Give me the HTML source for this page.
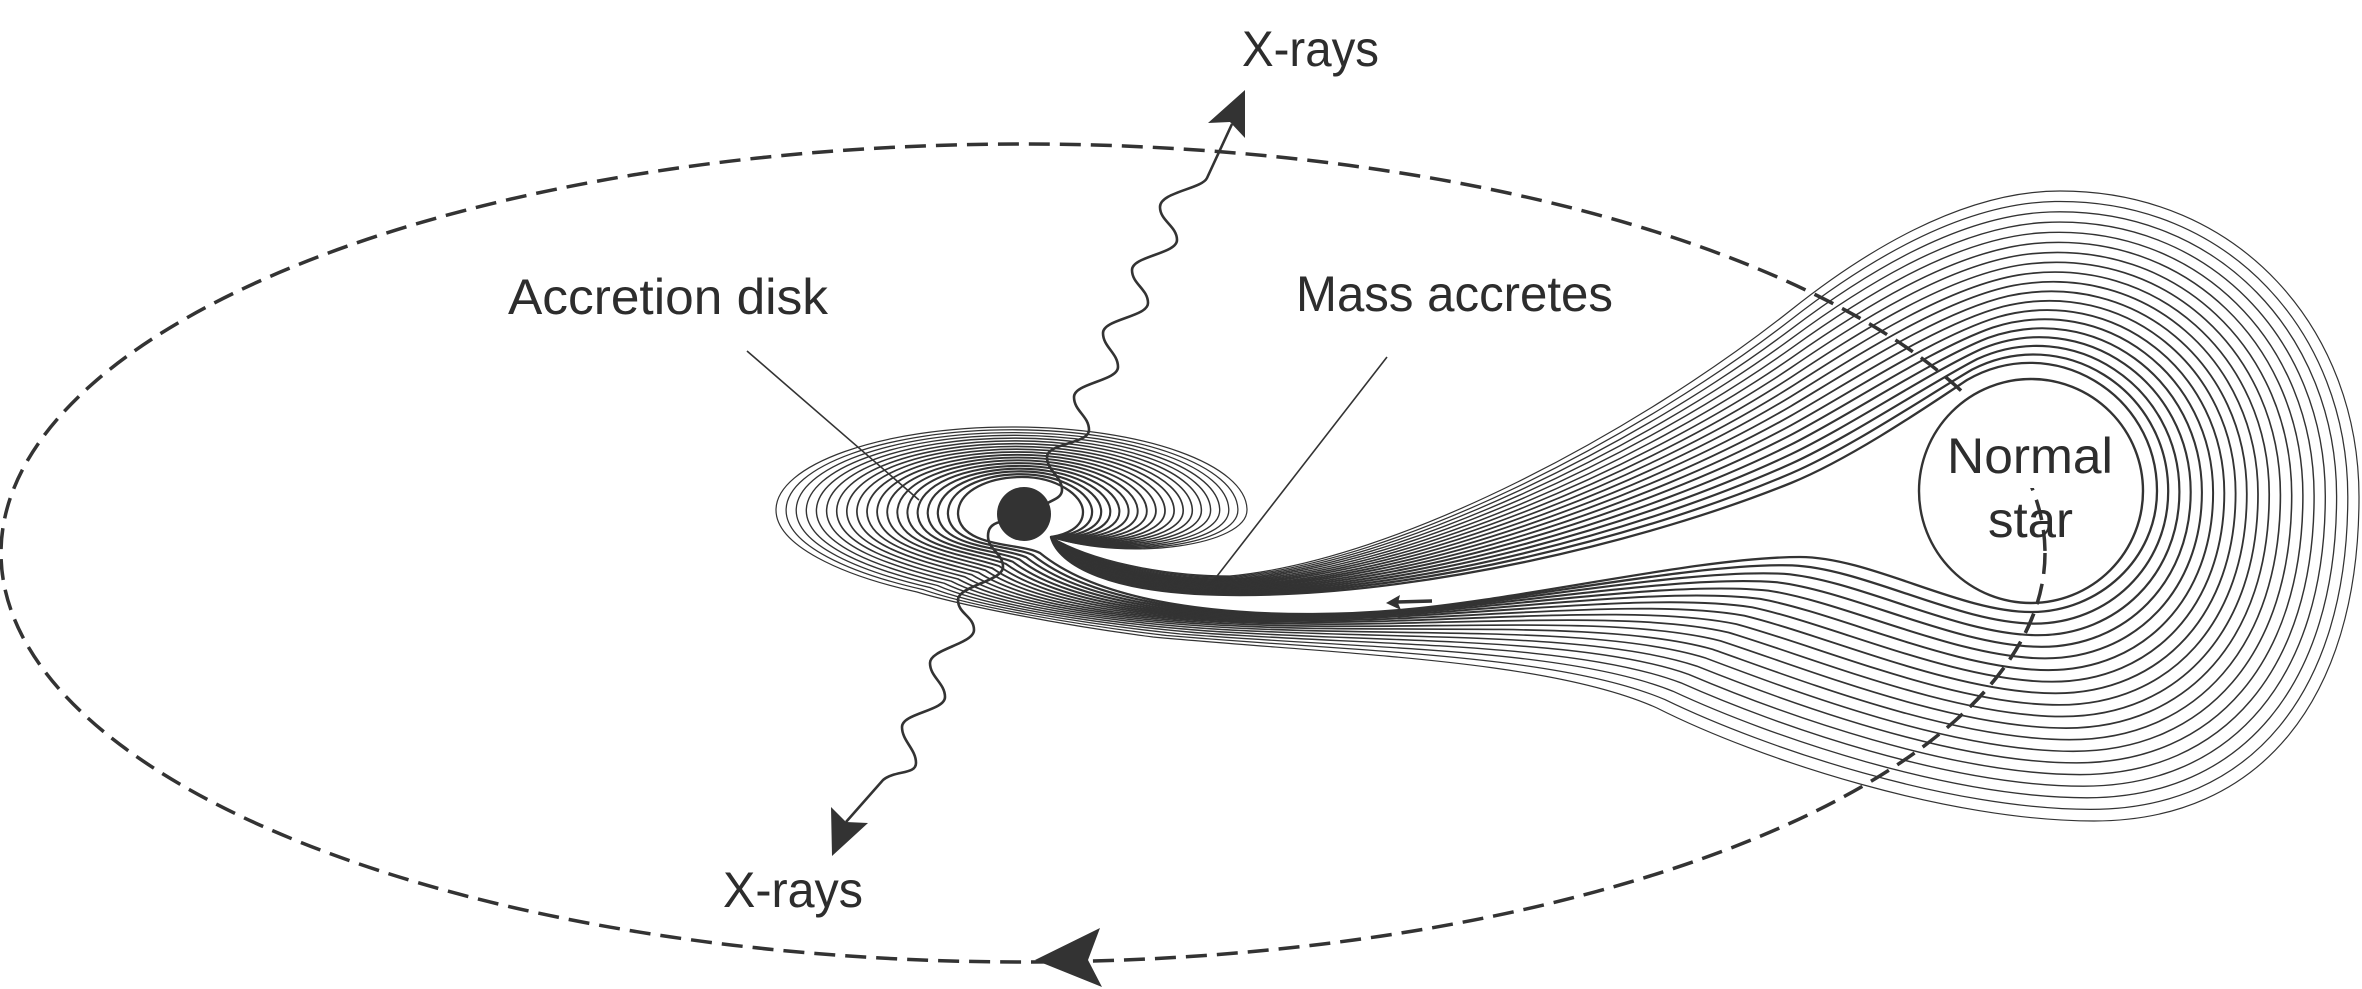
<!DOCTYPE html>
<html><head><meta charset="utf-8">
<style>
html,body{margin:0;padding:0;background:#fff;width:2362px;height:989px;overflow:hidden;}
svg{display:block;}
text{font-family:"Liberation Sans",sans-serif;fill:#2d2d2d;font-size:50px;}
</style></head>
<body>
<svg id="s" width="2362" height="989" viewBox="0 0 2362 989" xmlns="http://www.w3.org/2000/svg">
<defs><clipPath id="lowstar"><rect x="1900" y="488" width="300" height="220"/></clipPath></defs>
<rect x="0" y="0" width="2362" height="989" fill="#fff"/>
<g id="flow" fill="none" stroke="#333" stroke-linejoin="round" stroke-linecap="round"></g>

<!-- leader lines -->
<line x1="747" y1="351" x2="919" y2="500" stroke="#333" stroke-width="1.6"/>
<line x1="1387" y1="357" x2="1214" y2="580" stroke="#333" stroke-width="1.6"/>

<!-- wavy x-ray lines -->
<path d="M 1232 124 L 1207 178 C 1202 189 1160 192 1160 207 C 1160 221 1177 226 1177 240 C 1177 254 1132 256 1132 270 C 1132 284 1148 289 1148 303 C 1148 317 1103 319 1103 333 C 1103 347 1118 353 1118 367 C 1118 381 1074 383 1074 397 C 1074 411 1089 416 1089 430 C 1089 444 1047 443 1047 457 C 1047 471 1062 476 1062 490 C 1062 498 1052 500 1046 504" fill="none" stroke="#333" stroke-width="2.6"/>
<polygon points="1245,90 1245,138 1230,122 1208,123" fill="#333"/>

<path d="M 1000 522 C 992 524 988 528 988 536 C 988 550 1003 553 1003 567 C 1003 581 958 586 958 600 C 958 614 974 616 974 630 C 974 644 930 649 930 663 C 930 677 945 683 945 697 C 945 711 902 713 902 727 C 902 741 916 749 916 763 C 916 775 895 770 883 780 L 846 822" fill="none" stroke="#333" stroke-width="2.6"/>
<polygon points="832,856 831,807 846,822 868,823" fill="#333"/>

<!-- black hole -->
<circle cx="1024" cy="514" r="27" fill="#333"/>

<!-- orbit -->
<ellipse cx="1023" cy="553" rx="1022" ry="409" fill="none" stroke="#333" stroke-width="3.5" stroke-dasharray="21 10"/>
<polygon points="1035,960 1100,928 1088,960 1102,987" fill="#333"/>

<!-- normal star -->
<circle cx="2031" cy="491" r="112" fill="#fff" stroke="#333" stroke-width="2.4"/>
<ellipse cx="1023" cy="553" rx="1022" ry="409" fill="none" stroke="#333" stroke-width="3.5" stroke-dasharray="21 10" clip-path="url(#lowstar)"/>

<!-- labels -->
<text x="1242" y="66" textLength="137" lengthAdjust="spacingAndGlyphs">X-rays</text>
<text x="723" y="907" textLength="140" lengthAdjust="spacingAndGlyphs">X-rays</text>
<text x="508" y="314" textLength="320" lengthAdjust="spacingAndGlyphs">Accretion disk</text>
<text x="1296" y="311" textLength="317" lengthAdjust="spacingAndGlyphs">Mass accretes</text>
<text x="1947" y="473" textLength="166" lengthAdjust="spacingAndGlyphs">Normal</text>
<text x="1988" y="537" textLength="85" lengthAdjust="spacingAndGlyphs">star</text>

<!-- small arrow in stream gap -->
<line x1="1432" y1="601" x2="1396" y2="602" stroke="#333" stroke-width="3.5"/>
<polygon points="1386,603 1400,595 1398,603 1401,610" fill="#333"/>
</svg>
<script>
(function(){
var IN = [
 [1051,537],
 [1058,565, 1110,594, 1230,595],
 [1420,597, 1650,540, 1791,483],
 [1850,459, 1925,408, 1967,380],
 [2052,331, 2157,393, 2157,491],
 [2157,559, 2099,612, 2031,612],
 [1960,612, 1870,557, 1800,557],
 [1700,557, 1520,600, 1400,610],
 [1300,619, 1120,618, 1040,553],
 [1022,543, 960,548, 958,514],
 [958,490, 990,477, 1022,477],
 [1056,477, 1083,495, 1083,512],
 [1083,528, 1065,535, 1051,537]
];
var OUT = [
 [1051,537],
 [1090,560, 1160,576, 1230,576],
 [1400,560, 1640,430, 1791,310],
 [1860,255, 1960,191, 2060,191],
 [2240,191, 2359,330, 2359,497],
 [2359,700, 2260,821, 2094,821],
 [1950,821, 1760,760, 1657,708],
 [1550,660, 1350,655, 1153,637],
 [1060,625, 960,605, 917,592],
 [840,575, 776,545, 776,510],
 [776,465, 880,427, 1012,427],
 [1144,427, 1247,465, 1247,510],
 [1247,545, 1130,562, 1051,537]
];
var N = 19;
var g = document.getElementById('flow');
var NS = 'http://www.w3.org/2000/svg';
for (var i = 0; i < N; i++) {
  var t = i / (N - 1);
  var d = '';
  for (var s = 0; s < IN.length; s++) {
    var a = IN[s], b = OUT[s], pts = [];
    for (var k = 0; k < a.length; k++) pts.push((a[k] + (b[k] - a[k]) * t).toFixed(1));
    d += (s === 0 ? 'M ' : ' C ') + pts.join(' ');
  }
  d += ' Z';
  var p = document.createElementNS(NS, 'path');
  p.setAttribute('d', d);
  p.setAttribute('stroke-width', (2.3 - 1.1 * t).toFixed(2));
  g.appendChild(p);
}
})();
</script>
</body></html>
